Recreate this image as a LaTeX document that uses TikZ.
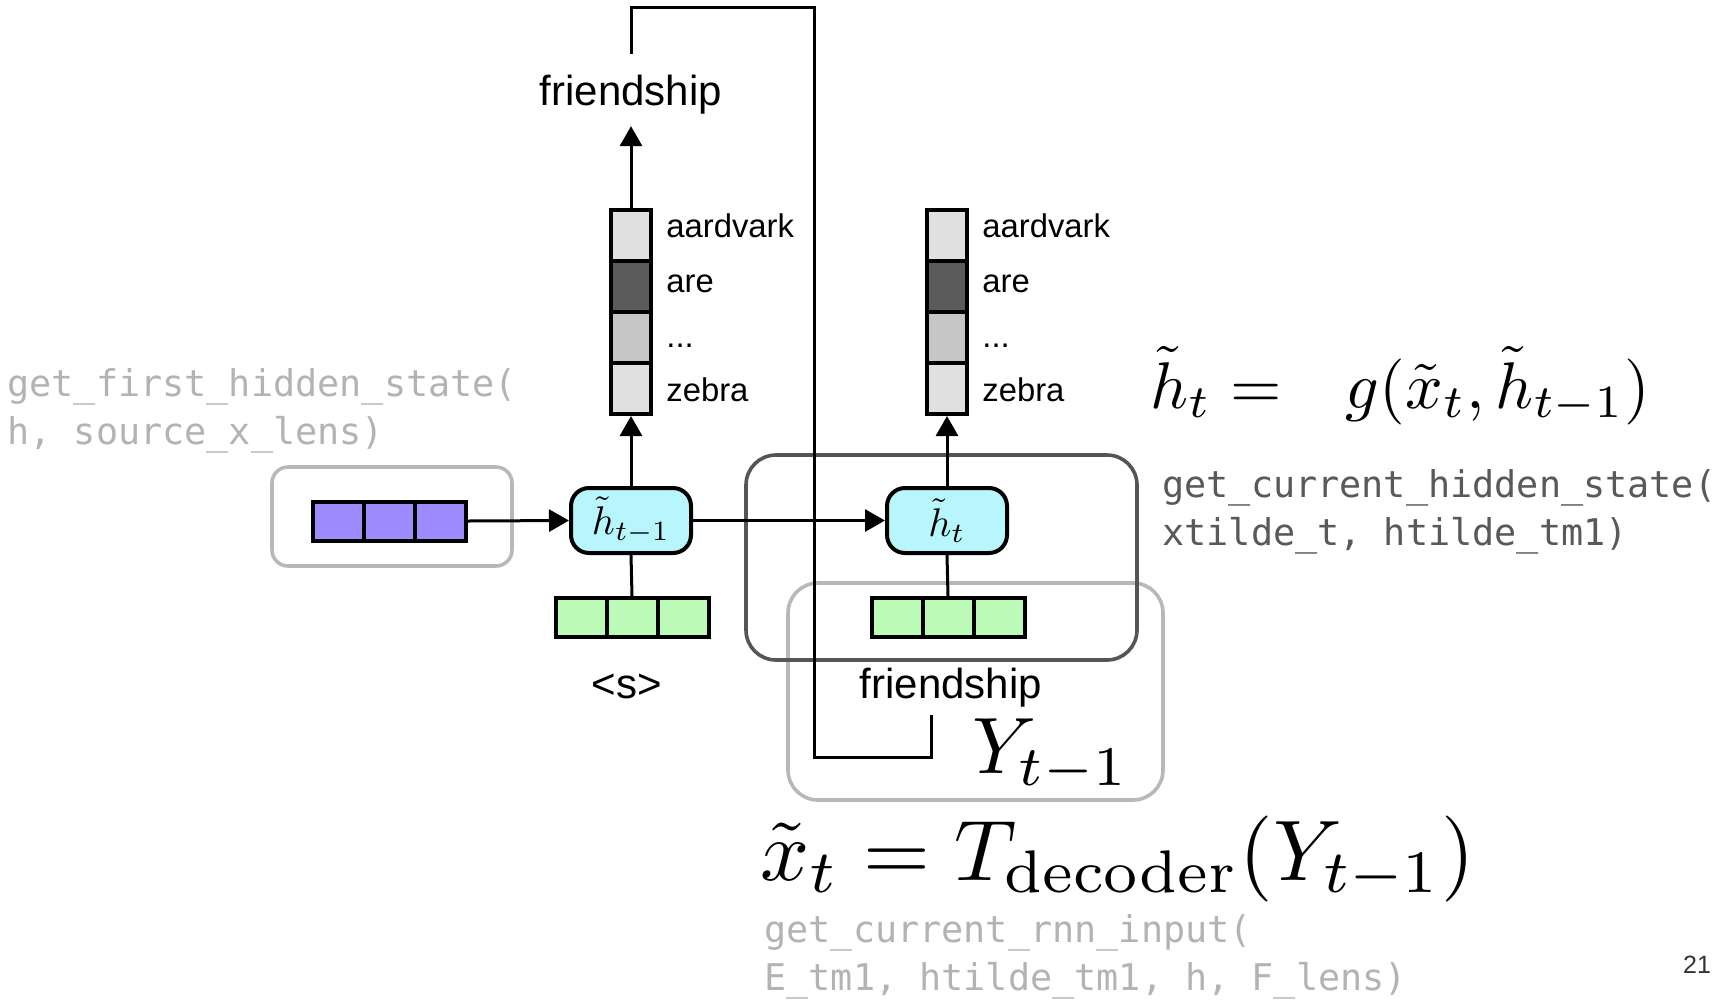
\documentclass[tikz,border=0pt]{standalone}
\usepackage[no-math]{fontspec}
\setmainfont{Liberation Sans}
\setmonofont{DejaVu Sans Mono}
\usepackage{graphicx}
\usetikzlibrary{arrows.meta,positioning}

\definecolor{srcfill}{HTML}{9E8CFF}
\definecolor{infill}{HTML}{BBFBB7}
\definecolor{hidfill}{HTML}{B8F6FD}
\definecolor{vlight}{HTML}{E0E0E0}
\definecolor{vdark}{HTML}{5A5A5A}
\definecolor{vmid}{HTML}{C6C6C6}
\definecolor{codelight}{HTML}{B3B3B3}
\definecolor{codedark}{HTML}{595959}
\definecolor{boxdark}{HTML}{555555}
\definecolor{boxlight}{HTML}{B8B8B8}

\newcommand\vocabdots{...}

\begin{document}
\begin{tikzpicture}[x=0.5pt,y=-0.5pt,
    >={Triangle[length=10pt,width=11pt]},
    cell/.style={draw,line width=2pt,minimum width=25.5pt,minimum height=19.5pt,inner sep=0pt},
    vcell/.style={draw,line width=2pt,minimum width=20pt,minimum height=25.5pt,inner sep=0pt},
    hid/.style={draw,line width=2pt,fill=hidfill,rounded corners=9pt,
                minimum width=60pt,minimum height=32.5pt,inner sep=0pt},
    group/.style={draw,line width=1.8pt,rounded corners=15pt,inner sep=0pt},
    word/.style={font=\fontsize{16.4}{19}\selectfont,inner sep=0pt,anchor=base west},
    token/.style={font=\fontsize{21}{25}\selectfont,inner sep=6pt},
    code/.style={font=\fontsize{18.4}{24}\selectfont\ttfamily,align=left,inner sep=0pt},
    link/.style={line width=1.5pt}]
\useasboundingbox (0,0) rectangle (1730,1002);

% groupings
\node[group,draw=boxlight,rounded corners=8pt,minimum width=120pt,minimum height=49.5pt] (srcbox) at (392,516.5) {};
\node[group,draw=boxlight,minimum width=187.5pt,minimum height=108.5pt] (inbox) at (975.5,691.5) {};
\node[group,draw=boxdark,minimum width=195.5pt,minimum height=102.5pt] (stepbox) at (941.5,557.5) {};

% source encoding, inputs, hidden states
\foreach \i in {1,2,3} {
  \node[cell,fill=srcfill] (src-\i) at ({287.5+51*\i},521) {};
  \node[cell,fill=infill] (in1-\i) at ({530+51*\i},617.5) {};
  \node[cell,fill=infill] (in2-\i) at ({846+51*\i},617.5) {};
}
\node[hid] (h1) at (631,520.5) {\scalebox{2}{$\tilde h_{t-1}$}};
\node[hid] (h2) at (947,520.5) {\scalebox{2}{$\tilde h_t$}};

% output distributions
\foreach \i/\c/\w in {1/vlight/aardvark,2/vdark/are,3/vmid/\vocabdots,4/vlight/zebra} {
  \node[vcell,fill=\c] (v1-\i) at (631,{184.5+51*\i}) {};
  \node[vcell,fill=\c] (v2-\i) at (947,{184.5+51*\i}) {};
  \node[word] at (666,{183+54.7*\i}) {\w};
  \node[word] at (982,{183+54.7*\i}) {\w};
}

\node[token,anchor=base] (out1) at (631,105) {friendship};
\node[token,anchor=base] (first) at (627,698) {<s>};
\node[token,anchor=base] (prev) at (951,698) {friendship};
\coordinate (loop) at (814,7);

\draw[link,->] (src-3.east) -- (h1.west);
\draw[link,->] (h1.east) -- (h2.west);
\draw[link] (in1-2.north) -- (h1.south);
\draw[link] (in2-2.north) -- (h2.south);
\draw[link,->] (h1.north) -- (v1-4.south);
\draw[link,->] (h2.north) -- (v2-4.south);
\draw[link,->] (v1-1.north) -- (out1.south);
\draw[link] ([yshift=4pt]out1.north) |- (loop) -- (loop |- 0,757) -| ([xshift=-10pt,yshift=2pt]prev.south);

% equations
\node[anchor=base west,inner sep=0pt] (yprev) at (972,773) {\scalebox{4}{$Y_{t-1}$}};
\node[anchor=base west,inner sep=0pt] (heq) at (1150,408) {\scalebox{3.3}{$\tilde h_t = \hspace{7pt} g(\tilde x_t,\tilde h_{t-1})$}};
\node[anchor=base west,inner sep=0pt] (xeq) at (760,880) {\scalebox{4.3}{$\tilde x_t = T_{\mathrm{decoder}}(Y_{t-1})$}};

% function names
\node[code,text=codelight,anchor=base west] (firstfn) at (7,444) {get\_first\_hidden\_state(\\h, source\_x\_lens)};
\node[code,text=codedark,anchor=base west] (stepfn) at (1162,545) {get\_current\_hidden\_state(\\xtilde\_t, htilde\_tm1)};
\node[code,text=codelight,anchor=base west] (inputfn) at (764,990) {get\_current\_rnn\_input(\\E\_tm1, htilde\_tm1, h, F\_lens)};

\node[font=\fontsize{12.5}{15}\selectfont,text=black!80] (page) at (1697,965) {21};
\end{tikzpicture}
\end{document}
